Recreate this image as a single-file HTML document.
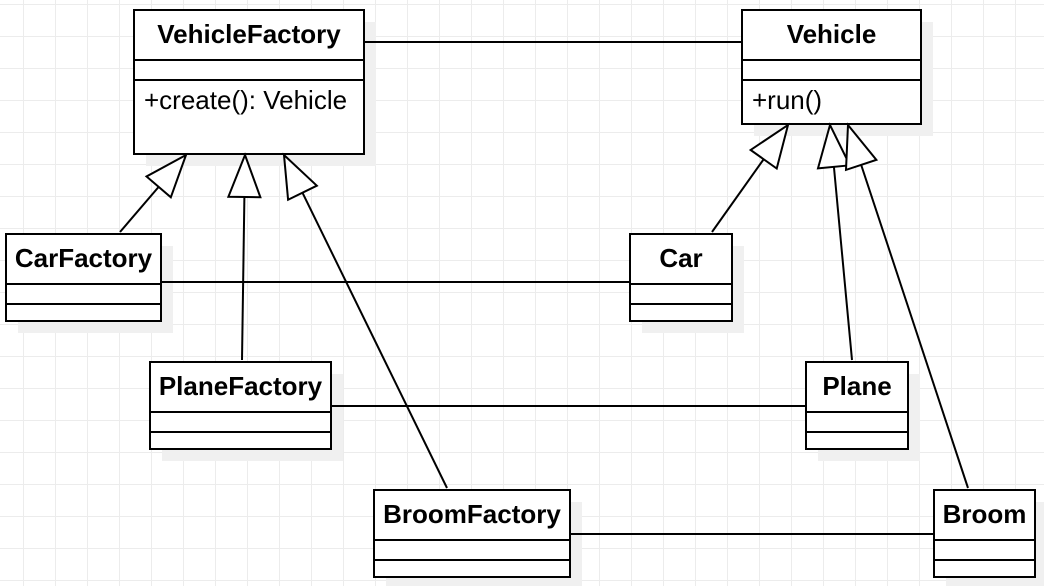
<!DOCTYPE html>
<html><head><style>
html,body{margin:0;padding:0;}
body{width:1044px;height:586px;overflow:hidden;background:#fff;
background-image:linear-gradient(#ececec 1px,transparent 1px),linear-gradient(90deg,#ececec 1px,transparent 1px);
background-size:32px 32px;background-position:23px 4px;}
</style></head><body>
<svg id="s" width="1044" height="586" style="position:absolute;left:0;top:0" font-family="Liberation Sans, sans-serif">
</svg>
<script>
var s=document.getElementById('s'),h='';
var boxes=[
["VehicleFactory",134,10,230,144,"+create(): Vehicle"],
["Vehicle",742,10,179,114,"+run()"],
["CarFactory",6,234,155,87],
["Car",630,234,102,87],
["PlaneFactory",150,362,181,87],
["Plane",806,362,102,87],
["BroomFactory",374,490,196,87],
["Broom",934,490,101,87]];
boxes.forEach(function(b){h+='<rect x="'+(b[1]+12)+'" y="'+(b[2]+12)+'" width="'+b[3]+'" height="'+b[4]+'" fill="#f0f0f0"/>';});
var lines=[[364,42,742,42],[161,282,630,282],[331,406,806,406],[570,534,934,534]];
lines.forEach(function(l){h+='<line x1="'+l[0]+'" y1="'+l[1]+'" x2="'+l[2]+'" y2="'+l[3]+'" stroke="#000" stroke-width="2"/>';});
boxes.forEach(function(b){var x=b[1],y=b[2],w=b[3],ht=b[4];
h+='<rect x="'+x+'" y="'+y+'" width="'+w+'" height="'+ht+'" fill="#fff" stroke="#000" stroke-width="2"/>';
h+='<line x1="'+x+'" y1="'+(y+50)+'" x2="'+(x+w)+'" y2="'+(y+50)+'" stroke="#000" stroke-width="2"/>';
h+='<line x1="'+x+'" y1="'+(y+70)+'" x2="'+(x+w)+'" y2="'+(y+70)+'" stroke="#000" stroke-width="2"/>';
h+='<text x="'+(x+w/2)+'" y="'+(y+33)+'" text-anchor="middle" font-weight="bold" font-size="26">'+b[0]+'</text>';
if(b[5])h+='<text x="'+(x+10)+'" y="'+(y+99)+'" font-size="26">'+b[5]+'</text>';});
var inh=[[120,232,186,155],[242,360,245,155],[447,488,284,155],[712,232,788,125],[852,360,830,125],[968,488,848,125]];
inh.forEach(function(a){var dx=a[2]-a[0],dy=a[3]-a[1],L=Math.sqrt(dx*dx+dy*dy),ux=dx/L,uy=dy/L;
var bx=a[2]-ux*42,by=a[3]-uy*42,px=-uy*16,py=ux*16;
h+='<line x1="'+a[0]+'" y1="'+a[1]+'" x2="'+bx+'" y2="'+by+'" stroke="#000" stroke-width="2"/>';
h+='<polygon points="'+a[2]+','+a[3]+' '+(bx+px)+','+(by+py)+' '+(bx-px)+','+(by-py)+'" fill="#fff" stroke="#000" stroke-width="2"/>';});
s.innerHTML=h;
</script>
</body></html>
